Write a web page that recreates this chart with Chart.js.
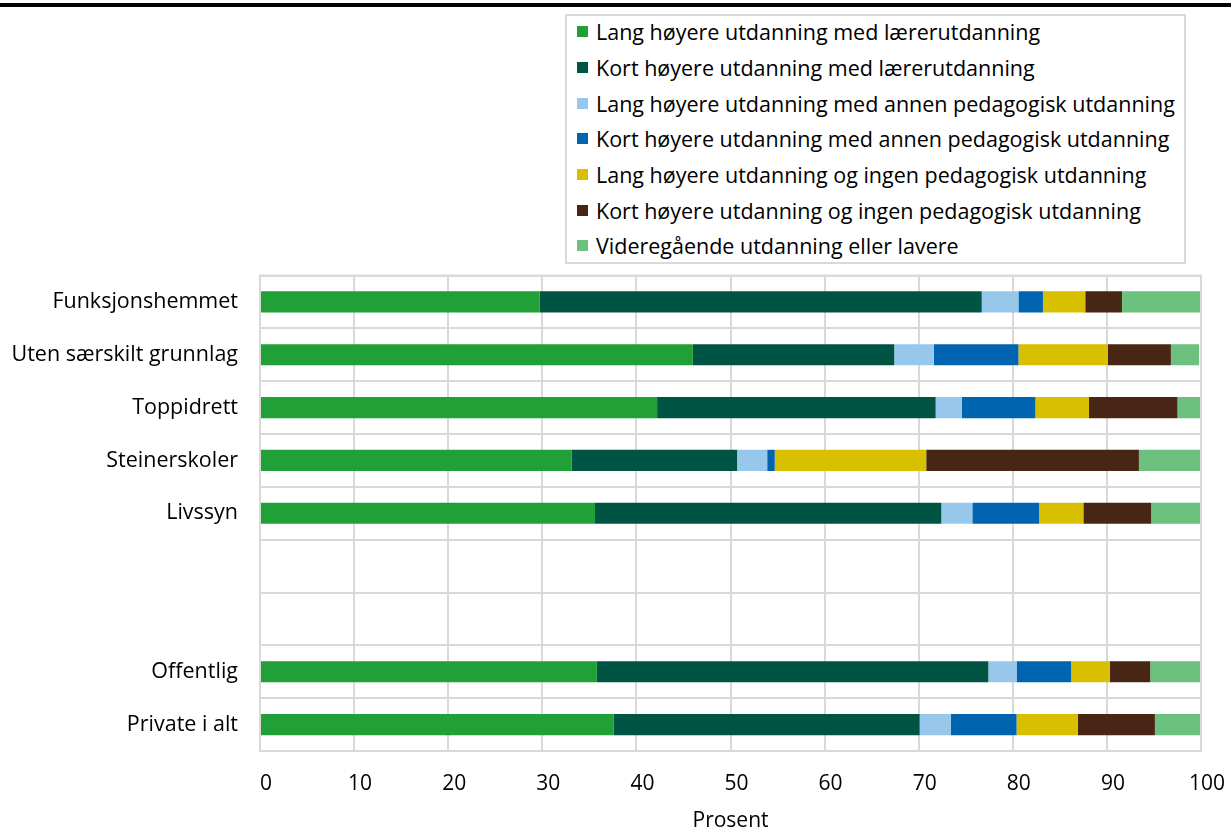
<!DOCTYPE html>
<html>
<head>
<meta charset="utf-8">
<script src="https://cdn.jsdelivr.net/npm/chart.js@4/dist/chart.umd.min.js"></script>
<style>
  html, body { margin: 0; padding: 0; background: #fff; }
  body { width: 1231px; height: 830px; position: relative; overflow: hidden; font-family: 'Open Sans', sans-serif; }
  .topline { position: absolute; left: 0; top: 3px; width: 1231px; height: 4px; background: #000; }
  .wrap { position: absolute; left: 0; top: 0; width: 1231px; height: 830px; }
  #legend {
    position: absolute; left: 565px; top: 14px; width: 621px; height: 250px;
    border: 2px solid #d9d9d9; background: #fff; box-sizing: border-box;
    padding: 0 0 0 10px;
  }
  #legend .item { height: 35.7px; display: flex; align-items: center; font-size: 21.5px; color: #000; white-space: nowrap; }
  #legend .item:first-child { margin-top: -2px; }
  #legend .sw { width: 11px; height: 11px; margin-right: 8px; flex: none; }
</style>
</head>
<body>
<div class="topline"></div>
<div class="wrap"><canvas id="chart" width="1231" height="830"></canvas></div>
<div id="legend"></div>
<script>
// ---------- Data ----------
const categories = ['Funksjonshemmet', 'Uten særskilt grunnlag', 'Toppidrett', 'Steinerskoler', 'Livssyn', ' ', '  ', 'Offentlig', 'Private i alt'];

const langLaerer    = [29.7, 46.0, 42.2, 33.1, 35.6, null, null, 35.8, 37.6];
const kortLaerer    = [47.0, 21.4, 29.6, 17.6, 36.8, null, null, 41.6, 32.5];
const langAnnenPed  = [3.9, 4.2, 2.8, 3.2, 3.3, null, null, 3.0, 3.3];
const kortAnnenPed  = [2.6, 9.0, 7.8, 0.8, 7.1, null, null, 5.8, 7.0];
const langIngenPed  = [4.5, 9.5, 5.7, 16.1, 4.7, null, null, 4.1, 6.5];
const kortIngenPed  = [3.9, 6.7, 9.4, 22.6, 7.2, null, null, 4.3, 8.2];
const videregaende  = [8.4, 3.0, 2.5, 6.6, 5.3, null, null, 5.4, 4.9];

const xTicks = [0, 10, 20, 30, 40, 50, 60, 70, 80, 90, 100];

const seriesNames = [
    'Lang høyere utdanning med lærerutdanning',
    'Kort høyere utdanning med lærerutdanning',
    'Lang høyere utdanning med annen pedagogisk utdanning',
    'Kort høyere utdanning med annen pedagogisk utdanning',
    'Lang høyere utdanning og ingen pedagogisk utdanning',
    'Kort høyere utdanning og ingen pedagogisk utdanning',
    'Videregående utdanning eller lavere'
];
const seriesData = [langLaerer, kortLaerer, langAnnenPed, kortAnnenPed, langIngenPed, kortIngenPed, videregaende];
const seriesColors = ['#21a038', '#005444', '#97c8ec', '#0064b0', '#d8bf00', '#472615', '#6bc17d'];

// ---------- Chart ----------
const FONT = "'Open Sans', sans-serif";
const GRID = '#d9d9d9';

const chart = new Chart(document.getElementById('chart'), {
    type: 'bar',
    data: {
        labels: categories,
        datasets: seriesNames.map((name, i) => ({
            label: name,
            data: seriesData[i],
            backgroundColor: seriesColors[i],
            borderWidth: 0,
            categoryPercentage: 1,
            barPercentage: 0.4
        }))
    },
    options: {
        indexAxis: 'y',
        responsive: false,
        animation: false,
        layout: { padding: { top: 275.5, right: 30, bottom: 0, left: 0 } },
        plugins: {
            legend: { display: false },
            tooltip: { enabled: false }
        },
        scales: {
            x: {
                stacked: true,
                min: 0,
                max: 100,
                afterBuildTicks: s => { s.ticks = xTicks.map(v => ({ value: v })); },
                afterFit: s => { s.height = 79; s.paddingLeft = 0; s.paddingRight = 0; },
                grid: { color: GRID, lineWidth: 2, drawTicks: false },
                border: { color: GRID, width: 2 },
                ticks: { color: '#000', font: { family: FONT, size: 21 }, padding: 20, labelOffset: 6 },
                title: { display: true, text: 'Prosent', color: '#000', font: { family: FONT, size: 21 }, padding: { top: 0, bottom: -4 } }
            },
            y: {
                stacked: true,
                afterFit: s => { s.width = 260; s.paddingTop = 0; s.paddingBottom = 0; },
                grid: { color: GRID, lineWidth: 2, drawTicks: false, offset: true },
                border: { color: GRID, width: 2 },
                ticks: { color: '#000', font: { family: FONT, size: 21.5 }, padding: 22, autoSkip: false }
            }
        }
    },
    plugins: [{
        id: 'frame',
        afterDraw(c) {
            const a = c.chartArea, ctx = c.ctx;
            ctx.save();
            ctx.strokeStyle = GRID;
            ctx.lineWidth = 2;
            ctx.strokeRect(a.left, a.top, a.right - a.left, a.bottom - a.top);
            ctx.restore();
        }
    }]
});

// ---------- Legend (HTML, from datasets) ----------
const legendEl = document.getElementById('legend');
chart.data.datasets.forEach(ds => {
    legendEl.insertAdjacentHTML('beforeend',
        `<div class="item"><span class="sw" style="background:${ds.backgroundColor}"></span>${ds.label}</div>`);
});
</script>
</body>
</html>
